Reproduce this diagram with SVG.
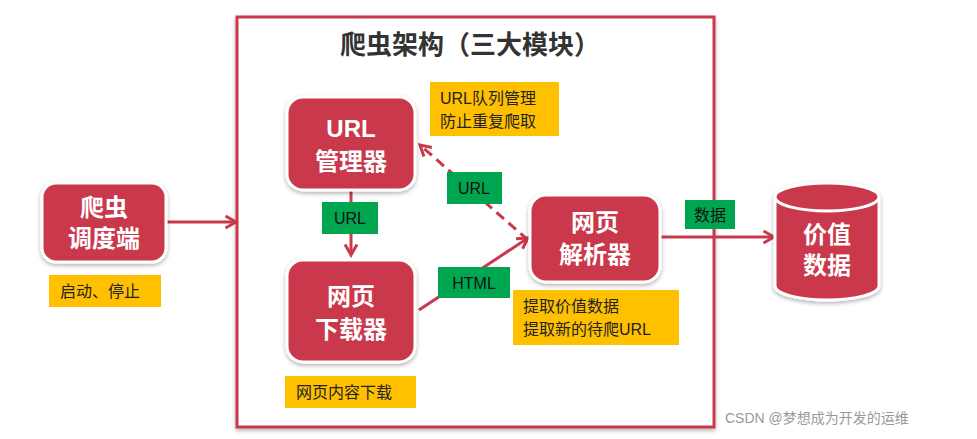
<svg xmlns="http://www.w3.org/2000/svg" width="977" height="439" viewBox="0 0 977 439">
<style>
.node rect,.node path{fill:#c9394b;stroke:#fff;stroke-width:3}
.nt{font-family:"Liberation Sans","Noto Sans CJK SC",sans-serif;font-weight:bold;font-size:24px;fill:#fff;text-anchor:middle}
.note{fill:#ffc000}
.nn{font-family:"Liberation Sans","Noto Sans CJK SC",sans-serif;font-size:16px;fill:#222}
.tag{fill:#00a64f}
.tt{font-family:"Liberation Sans","Noto Sans CJK SC",sans-serif;font-size:16px;fill:#111;text-anchor:middle}
.c{stroke:#c9394b;stroke-width:3;fill:none}
</style>
<defs>
<filter id="sh" x="-20%" y="-20%" width="140%" height="140%"><feDropShadow dx="0" dy="2" stdDeviation="2" flood-opacity="0.3"/></filter>
<marker id="a" viewBox="0 0 10 10" refX="8" refY="5" markerWidth="5" markerHeight="5" orient="auto"><path d="M1,1 L8,5 L1,9" fill="none" stroke="#c9394b" stroke-width="2"/></marker>
</defs>
<rect width="977" height="439" fill="#fff"/>
<rect id="frame" x="237" y="17" width="477" height="410" fill="#fff" stroke="#c9394b" stroke-width="3" filter="url(#sh)"/>
<text x="470" y="54" font-family="'Liberation Sans','Noto Sans CJK SC',sans-serif" font-weight="bold" font-size="26" fill="#333" text-anchor="middle">爬虫架构（三大模块）</text>
<g id="connectors">
<line class="c" x1="166" y1="222" x2="236" y2="222" marker-end="url(#a)"/>
<line class="c" x1="351" y1="190" x2="351" y2="255" marker-end="url(#a)"/>
<line class="c" x1="419" y1="310" x2="528" y2="238" marker-end="url(#a)"/>
<line class="c" x1="528" y1="240" x2="420" y2="145" stroke-dasharray="10,6" marker-end="url(#a)"/>
<line class="c" x1="660" y1="237" x2="774" y2="237" marker-end="url(#a)"/>
</g>
<g id="scheduler" class="node"><rect x="42" y="183" width="124" height="79" rx="14" filter="url(#sh)"/><text class="nt" x="104" y="216">爬虫</text><text class="nt" x="104" y="247">调度端</text></g>
<g id="manager" class="node"><rect x="287" y="97" width="128" height="93" rx="16" filter="url(#sh)"/><text class="nt" x="351" y="137">URL</text><text class="nt" x="351" y="170">管理器</text></g>
<g id="downloader" class="node"><rect x="287" y="260" width="128" height="102" rx="16" filter="url(#sh)"/><text class="nt" x="351" y="305">网页</text><text class="nt" x="351" y="338">下载器</text></g>
<g id="parser" class="node"><rect x="530" y="195" width="130" height="87" rx="16" filter="url(#sh)"/><text class="nt" x="595" y="231">网页</text><text class="nt" x="595" y="263">解析器</text></g>
<g id="db" class="node"><path d="M775,197 A52,14 0 0 1 879,197 L879,286 A52,14 0 0 1 775,286 Z" filter="url(#sh)"/><path d="M775,197 A52,14 0 0 0 879,197" fill="none"/><text class="nt" x="827" y="243">价值</text><text class="nt" x="827" y="274">数据</text></g>
<g id="notes">
<rect class="note" x="49" y="275" width="112" height="32"/><text class="nn" x="60" y="297">启动、停止</text>
<rect class="note" x="430" y="82" width="129" height="54"/><text class="nn" x="440" y="104">URL队列管理</text><text class="nn" x="440" y="127">防止重复爬取</text>
<rect class="note" x="513" y="290" width="166" height="55"/><text class="nn" x="523" y="312">提取价值数据</text><text class="nn" x="523" y="335">提取新的待爬URL</text>
<rect class="note" x="285" y="376" width="131" height="32"/><text class="nn" x="296" y="398">网页内容下载</text>
</g>
<g id="tags">
<rect class="tag" x="322" y="202" width="56" height="32"/><text class="tt" x="350" y="224">URL</text>
<rect class="tag" x="447" y="172" width="55" height="32"/><text class="tt" x="474" y="194">URL</text>
<rect class="tag" x="438" y="267" width="72" height="31"/><text class="tt" x="474" y="289">HTML</text>
<rect class="tag" x="685" y="200" width="50" height="29"/><text class="tt" x="710" y="221">数据</text>
</g>
<text x="725" y="423" font-family="'Liberation Sans','Noto Sans CJK SC',sans-serif" font-size="14" fill="#999">CSDN @梦想成为开发的运维</text>
</svg>
